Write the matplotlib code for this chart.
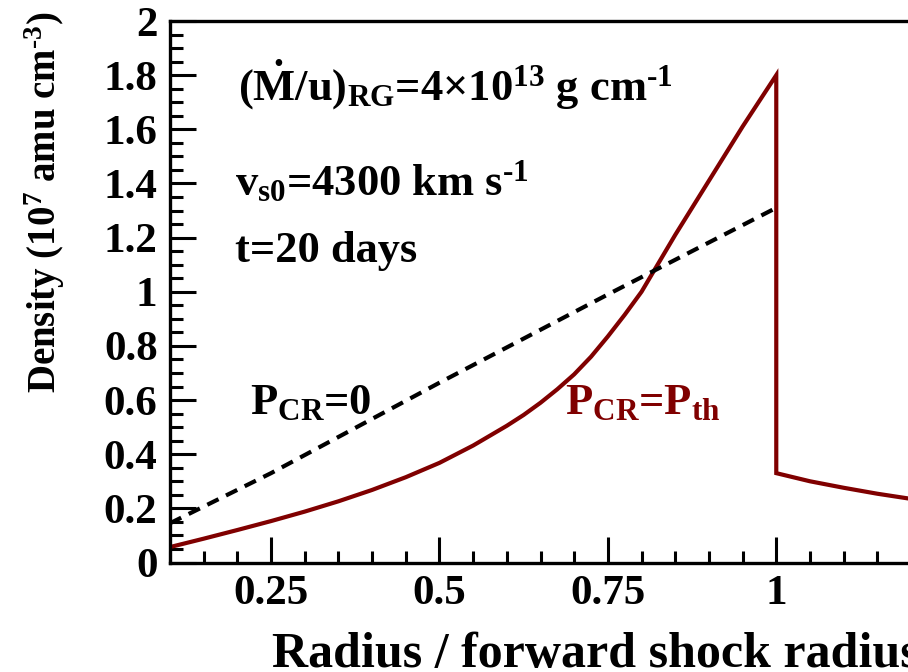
import matplotlib
matplotlib.use("Agg")
import matplotlib.pyplot as plt
from matplotlib.ticker import MultipleLocator, FixedLocator

plt.rcParams['font.family'] = ['Liberation Serif', 'DejaVu Serif']
plt.rcParams['font.weight'] = 'bold'
plt.rcParams['mathtext.fontset'] = 'custom'
plt.rcParams['mathtext.rm'] = 'Liberation Serif:bold'
plt.rcParams['mathtext.it'] = 'Liberation Serif:bold'
plt.rcParams['mathtext.bf'] = 'Liberation Serif:bold'
plt.rcParams['mathtext.default'] = 'rm'

# P_CR = P_th (solid, dark red): inside the shock, jump at r=1, then outside
r_cr = [0.1, 0.15, 0.2, 0.25, 0.3, 0.35, 0.4, 0.45, 0.5, 0.55, 0.6, 0.625,
        0.65, 0.675, 0.7, 0.725, 0.75, 0.775, 0.8, 0.825, 0.85, 0.875, 0.9,
        0.925, 0.95, 0.975, 1.0, 1.0, 1.05, 1.1, 1.15, 1.2]
rho_cr = [0.057, 0.088, 0.12, 0.153, 0.188, 0.226, 0.268, 0.315, 0.368, 0.432,
          0.505, 0.545, 0.59, 0.64, 0.695, 0.76, 0.835, 0.915, 1.0, 1.105,
          1.21, 1.31, 1.41, 1.51, 1.61, 1.705, 1.80, 0.33, 0.30, 0.276, 0.254,
          0.235]

# P_CR = 0 (dashed, black)
r_th = [0.1, 0.25, 0.5, 0.75, 1.0]
rho_th = [0.145, 0.33, 0.664, 0.99, 1.31]

fig = plt.figure(figsize=(9.08, 6.72), dpi=100)
ax = fig.add_axes([170/908, 1 - 562.5/672, 741/908, 541.5/672])

ax.plot(r_cr, rho_cr, color='#800000', lw=3, solid_joinstyle='miter')
ax.plot(r_th, rho_th, color='black', lw=3, dashes=(3.0, 2.0))

ax.set_xlim(0.1, 1.2)
ax.set_ylim(0, 2)
ax.xaxis.set_major_locator(FixedLocator([0.25, 0.5, 0.75, 1.0]))
ax.set_xticklabels(['0.25', '0.5', '0.75', '1'])
ax.xaxis.set_minor_locator(MultipleLocator(0.05))
ax.yaxis.set_major_locator(FixedLocator([0, 0.2, 0.4, 0.6, 0.8, 1.0, 1.2, 1.4, 1.6, 1.8, 2.0]))
ax.set_yticklabels(['0', '0.2', '0.4', '0.6', '0.8', '1', '1.2', '1.4', '1.6', '1.8', '2'])
ax.yaxis.set_minor_locator(MultipleLocator(0.05))

for s in ax.spines.values():
    s.set_linewidth(2.4)
ax.spines['right'].set_visible(False)
ax.tick_params(which='both', direction='in', top=False, right=False, width=2.2,
               labelsize=31, pad=9)
ax.tick_params(which='major', length=19)
ax.tick_params(which='minor', length=9)

fig.text(272/908, 1 - 667/672, 'Radius / forward shock radius', fontsize=36,
         ha='left', va='baseline')
fig.text(45/908, 1 - 393/672, r'Density (10$^{7}$ amu cm$^{\text{-}3}$)', fontsize=28,
         rotation=90, ha='center', va='bottom')

ax.text(238/908, 1 - 101/672,
        r'($\dot{M}$/u)$_{\mathrm{RG}}$=4$\times$10$^{13}$ g cm$^{\text{-}1}$',
        transform=fig.transFigure, fontsize=32, va='baseline')
ax.text(235/908, 1 - 195/672, r'v$_{\mathrm{s0}}$=4300 km s$^{\text{-}1}$',
        transform=fig.transFigure, fontsize=32, va='baseline')
ax.text(235/908, 1 - 262/672, 't=20 days',
        transform=fig.transFigure, fontsize=32, va='baseline')
ax.text(250/908, 1 - 414/672, r'P$_{\mathrm{CR}}$=0',
        transform=fig.transFigure, fontsize=32, va='baseline')
ax.text(565/908, 1 - 414/672, r'P$_{\mathrm{CR}}$=P$_{\mathrm{th}}$', color='#800000',
        transform=fig.transFigure, fontsize=32, va='baseline')

fig.savefig('out.png', dpi=100)
